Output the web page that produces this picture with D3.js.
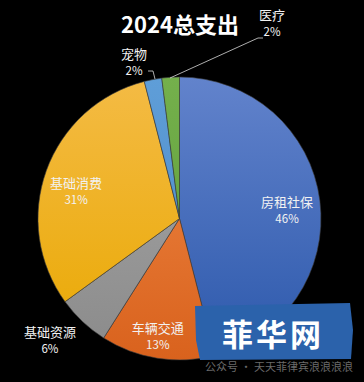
<!DOCTYPE html>
<html><head><meta charset="utf-8">
<script src="https://cdn.jsdelivr.net/npm/d3@7"></script>
<style>html,body{margin:0;padding:0;background:#000;}svg{display:block;}</style>
</head><body>
<script>
const title = "2024总支出";
const categories = ["房租社保", "车辆交通", "基础资源", "基础消费", "宠物", "医疗"];
const values = [46, 13, 6, 31, 2, 2];
const colorsTop = ["#6283cc", "#f08a48", "#a9a9a9", "#f4bb45", "#5f9ed8", "#74b04c"];
const colorsBottom = ["#2c58ab", "#d9621d", "#8a8a8a", "#e9a800", "#4a86c6", "#5c9a36"];

const W = 364, H = 382;
const cx = 179.5, cy = 218.5, R = 141.5;
const svg = d3.select("body").append("svg").attr("width", W).attr("height", H)
  .style("font-family", "'Noto Sans CJK SC', 'Noto Sans', sans-serif");
svg.append("rect").attr("width", W).attr("height", H).attr("fill", "#000");

const defs = svg.append("defs");
categories.forEach((c, i) => {
  const g = defs.append("linearGradient").attr("id", "g" + i)
    .attr("gradientUnits", "userSpaceOnUse")
    .attr("x1", 0).attr("y1", -R).attr("x2", 0).attr("y2", R);
  g.append("stop").attr("offset", "0%").attr("stop-color", colorsTop[i]);
  g.append("stop").attr("offset", "100%").attr("stop-color", colorsBottom[i]);
});

const data = categories.map((c, i) => ({ name: c, value: values[i], i }));
const pie = d3.pie().value(d => d.value).sort(null);
const arcs = pie(data);
const arc = d3.arc().innerRadius(0).outerRadius(R);

const g = svg.append("g").attr("transform", `translate(${cx},${cy})`);
g.selectAll("path").data(arcs).enter().append("path")
  .attr("d", arc)
  .attr("fill", d => `url(#g${d.data.i})`)
  .attr("stroke", "#3a3a3a").attr("stroke-width", 0.6);

svg.append("text").attr("x", 180).attr("y", 33).attr("text-anchor", "middle")
  .attr("fill", "#fff").attr("font-size", 22).attr("font-weight", "bold").text(title);

function pct(v) { return Math.round(v / d3.sum(values) * 100) + "%"; }
function drawLabel(x, y, name, p) {
  const t = svg.append("g").attr("transform", `translate(${x},${y})`);
  t.append("text").attr("text-anchor", "middle").attr("fill", "#f2f2f2")
    .attr("font-size", 13).attr("y", 0).text(name);
  t.append("text").attr("text-anchor", "middle").attr("fill", "#f2f2f2")
    .attr("font-size", 11.5).attr("y", 16).text(p);
}
// inside labels anchored on slice mid-angle, with a small offset
const inside = [
  { i: 0, k: 0.766, dx: 0, dy: 2 },
  { i: 1, k: 0.8, dx: -4, dy: 3 },
  { i: 2, k: 1.08, dx: -25, dy: 7 },
  { i: 3, k: 0.777, dx: 0, dy: 7 }
];
inside.forEach(o => {
  const a = arcs[o.i];
  const m = (a.startAngle + a.endAngle) / 2;
  const x = cx + Math.sin(m) * R * o.k + o.dx;
  const y = cy - Math.cos(m) * R * o.k + o.dy;
  drawLabel(x, y, categories[o.i], pct(values[o.i]));
});

// outside labels with leader lines
const lineCol = "#d9d9d9";
svg.append("path").attr("d", "M148,71 L153,71 L155,79").attr("fill", "none")
  .attr("stroke", lineCol).attr("stroke-width", 0.8);
drawLabel(134, 59, categories[4], pct(values[4]));
svg.append("path").attr("d", "M170,78 L258,38 L263,38").attr("fill", "none")
  .attr("stroke", lineCol).attr("stroke-width", 0.8);
drawLabel(272, 20, categories[5], pct(values[5]));

// watermark overlay
svg.append("path").attr("d", "M195,306 L350,303 L353,330 L351,359 L200,360 L196,340 Z")
  .attr("fill", "#2b62ab");
svg.append("text").attr("x", 273).attr("y", 346).attr("text-anchor", "middle")
  .attr("fill", "#fff").attr("font-size", 31).attr("font-weight", "bold")
  .attr("letter-spacing", 3).text("菲华网");
svg.append("text").attr("x", 205).attr("y", 371).attr("fill", "#6a6a6a")
  .attr("font-size", 11).text("公众号 · 天天菲律宾浪浪浪浪");
</script>
</body></html>
